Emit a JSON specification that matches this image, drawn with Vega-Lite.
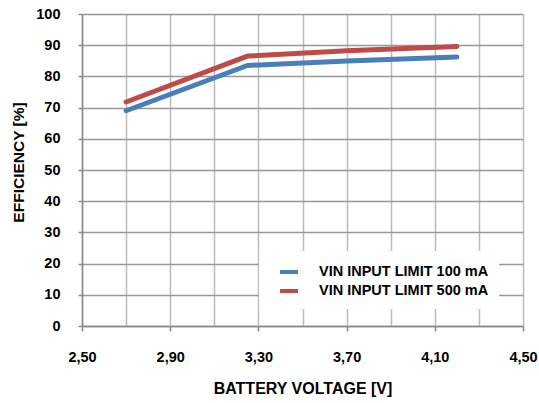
{
  "$schema": "https://vega.github.io/schema/vega-lite/v6.json",
  "width": 441,
  "height": 312,
  "autosize": "none",
  "padding": {"left": 82, "top": 14, "right": 16, "bottom": 77},
  "background": "white",
  "config": {
    "font": "Liberation Sans",
    "view": {"stroke": null},
    "axis": {
      "labelFont": "Liberation Sans",
      "labelFontWeight": "bold",
      "labelFontSize": 14.5,
      "labelColor": "#000000",
      "titleFont": "Liberation Sans",
      "titleFontWeight": "bold",
      "titleFontSize": 15.5,
      "titleColor": "#000000",
      "domainColor": "#888888",
      "domainWidth": 1.5,
      "tickColor": "#888888",
      "tickWidth": 1.5,
      "gridWidth": 1.5
    }
  },
  "data": {
    "values": [
      {"series": "VIN INPUT LIMIT 100 mA", "voltage": 2.70, "efficiency": 69.0},
      {"series": "VIN INPUT LIMIT 100 mA", "voltage": 3.25, "efficiency": 83.5},
      {"series": "VIN INPUT LIMIT 100 mA", "voltage": 3.70, "efficiency": 84.9},
      {"series": "VIN INPUT LIMIT 100 mA", "voltage": 4.20, "efficiency": 86.2},
      {"series": "VIN INPUT LIMIT 500 mA", "voltage": 2.70, "efficiency": 71.8},
      {"series": "VIN INPUT LIMIT 500 mA", "voltage": 3.25, "efficiency": 86.5},
      {"series": "VIN INPUT LIMIT 500 mA", "voltage": 3.70, "efficiency": 88.2},
      {"series": "VIN INPUT LIMIT 500 mA", "voltage": 4.20, "efficiency": 89.6}
    ]
  },
  "mark": {"type": "line", "strokeWidth": 5, "strokeCap": "round", "strokeJoin": "round"},
  "encoding": {
    "x": {
      "field": "voltage",
      "type": "quantitative",
      "scale": {"domain": [2.5, 4.5], "nice": false, "zero": false},
      "axis": {
        "title": "BATTERY VOLTAGE [V]",
        "titleFontSize": 16,
        "values": [2.5, 2.7, 2.9, 3.1, 3.3, 3.5, 3.7, 3.9, 4.1, 4.3, 4.5],
        "labelExpr": "round(datum.value * 10) % 4 == 1 ? replace(format(datum.value, '.2f'), '.', ',') : ''",
        "tickOpacity": {"condition": {"test": "round(datum.value * 10) % 4 != 1", "value": 0}, "value": 1},
        "tickSize": 5,
        "labelPadding": 19,
        "labelFlush": false,
        "labelOverlap": false,
        "gridColor": "#bbbbbb",
        "titleY": 62,
        "titleBaseline": "middle"
      }
    },
    "y": {
      "field": "efficiency",
      "type": "quantitative",
      "scale": {"domain": [0, 100], "nice": false},
      "axis": {
        "title": "EFFICIENCY [%]",
        "values": [0, 10, 20, 30, 40, 50, 60, 70, 80, 90, 100],
        "tickSize": 4,
        "labelPadding": 18,
        "gridColor": "#999999",
        "titleX": -64,
        "titleY": 148,
        "titleBaseline": "middle",
        "titleAngle": -90
      }
    },
    "color": {
      "field": "series",
      "type": "nominal",
      "scale": {
        "domain": ["VIN INPUT LIMIT 100 mA", "VIN INPUT LIMIT 500 mA"],
        "range": ["#4a7ebb", "#be4b48"]
      },
      "legend": {
        "title": null,
        "orient": "none",
        "legendX": 177,
        "legendY": 237,
        "fillColor": "white",
        "padding": 10,
        "symbolType": "stroke",
        "symbolSize": 324,
        "symbolStrokeWidth": 4,
        "symbolOffset": 9,
        "labelOffset": 19,
        "labelFont": "Liberation Sans",
        "labelFontWeight": "bold",
        "labelFontSize": 14.5,
        "labelColor": "#000000",
        "rowPadding": 0,
        "labelLimit": 300
      }
    }
  }
}
